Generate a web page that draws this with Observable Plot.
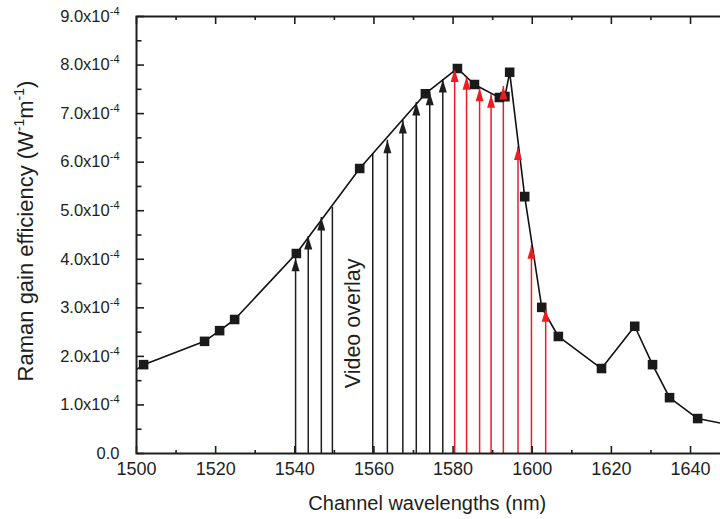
<!DOCTYPE html>
<html>
<head>
<meta charset="utf-8">
<script src="https://cdn.jsdelivr.net/npm/d3@7"></script>
<script src="https://cdn.jsdelivr.net/npm/@observablehq/plot@0.6"></script>
<style>
  html, body { margin: 0; padding: 0; background: #fff; }
  #chart svg { display: block; }
</style>
</head>
<body>
<div id="chart"></div>
<script>
// ---- data ----
// Raman gain efficiency curve (W^-1 m^-1) vs wavelength (nm)
const wavelength = [1497.5, 1501.8, 1517.2, 1521.0, 1524.8, 1540.4, 1556.4, 1573.0, 1581.1, 1585.4,
                    1591.7, 1593.1, 1594.3, 1598.1, 1602.4, 1606.6, 1617.5, 1625.9, 1630.4, 1634.7,
                    1641.8, 1653.0];
const gain = [1.59e-4, 1.83e-4, 2.31e-4, 2.53e-4, 2.76e-4, 4.12e-4, 5.87e-4, 7.41e-4, 7.93e-4, 7.60e-4,
              7.33e-4, 7.35e-4, 7.85e-4, 5.29e-4, 3.01e-4, 2.41e-4, 1.75e-4, 2.62e-4, 1.83e-4, 1.15e-4,
              0.72e-4, 0.54e-4];

// channel arrows (black) with heads
const blackArrowX   = [1540.2, 1543.4, 1546.7, 1563.4, 1567.3, 1570.7, 1574.1, 1577.4];
const blackArrowTop = [4.02e-4, 4.47e-4, 4.86e-4, 6.45e-4, 6.86e-4, 7.23e-4, 7.44e-4, 7.70e-4];
// channel lines (black) without heads
const plainLineX   = [1549.5, 1559.7];
const plainLineTop = [5.07e-4, 6.18e-4];
// channel arrows (red)
const redArrowX   = [1580.4, 1583.4, 1586.7, 1589.6, 1592.7, 1596.4, 1599.8, 1603.4];
const redArrowTop = [7.92e-4, 7.76e-4, 7.52e-4, 7.39e-4, 7.56e-4, 6.31e-4, 4.28e-4, 2.98e-4];

// annotation
const noteText = "Video overlay";
const noteX = 1554.7;
const noteY = 2.68e-4;

// axes
const xDomain = [1500, 1650];
const yDomain = [0, 9e-4];
const xTicks = [1500, 1520, 1540, 1560, 1580, 1600, 1620, 1640];
const xMinorTicks = [1510, 1530, 1550, 1570, 1590, 1610, 1630, 1650];
const yTicks = [0, 1e-4, 2e-4, 3e-4, 4e-4, 5e-4, 6e-4, 7e-4, 8e-4, 9e-4];
const yMinorTicks = [0.5e-4, 1.5e-4, 2.5e-4, 3.5e-4, 4.5e-4, 5.5e-4, 6.5e-4, 7.5e-4, 8.5e-4];
const yTickLabels = ["0.0", "1.0x10", "2.0x10", "3.0x10", "4.0x10", "5.0x10", "6.0x10", "7.0x10", "8.0x10", "9.0x10"];
const yTickExponent = "-4";
const xTitle = "Channel wavelengths (nm)";
const yTitleParts = ["Raman gain efficiency (W", "-1", "m", "-1", ")"];

// ---- build ----
const curve = wavelength.map((x, i) => ({x, y: gain[i]}));
const blackArrows = blackArrowX.map((x, i) => ({x, top: blackArrowTop[i]}));
const plainLines = plainLineX.map((x, i) => ({x, top: plainLineTop[i]}));
const redArrows = redArrowX.map((x, i) => ({x, top: redArrowTop[i]}));

const BLACK = "#1e1e1e";
const RED = "#ec1c24";

// arrowhead symbol: tip at the anchor point, body below it
const arrowHead = {
  draw(context) {
    const w = 8, h = 13;
    context.moveTo(0, 0);
    context.lineTo(-w / 2, h);
    context.lineTo(w / 2, h);
    context.closePath();
  }
};

const tickFmt = d => {
  const i = Math.round(d * 1e4);
  return i === 0 ? yTickLabels[0] : yTickLabels[i] + "⁻⁴";
};

const tickStyle = {text: null, label: null, strokeWidth: 1.6, stroke: BLACK};

const chart = Plot.plot({
  width: 720,
  height: 519,
  marginLeft: 136,
  marginTop: 16,
  marginBottom: 66,
  marginRight: -9.6,
  style: {fontFamily: "'Liberation Sans', Arial, sans-serif", background: "#fff", color: BLACK},
  x: {domain: xDomain},
  y: {domain: yDomain},
  marks: [
    // channel lines
    Plot.ruleX(blackArrows, {x: "x", y1: 0, y2: "top", stroke: BLACK, strokeWidth: 1.5}),
    Plot.ruleX(plainLines, {x: "x", y1: 0, y2: "top", stroke: BLACK, strokeWidth: 1.5}),
    Plot.ruleX(redArrows, {x: "x", y1: 0, y2: "top", stroke: RED, strokeWidth: 1.5}),
    // curve
    Plot.line(curve, {x: "x", y: "y", stroke: "#111", strokeWidth: 1.6, clip: true}),
    Plot.dot(curve, {x: "x", y: "y", symbol: "square", r: 5.4, fill: "#1a1a1a", stroke: "none", clip: true}),
    // arrowheads
    Plot.dot(blackArrows, {x: "x", y: "top", symbol: arrowHead, fill: BLACK, stroke: "none"}),
    Plot.dot(redArrows, {x: "x", y: "top", symbol: arrowHead, fill: RED, stroke: "none"}),
    // annotation
    Plot.text([noteText], {x: noteX, y: noteY, text: d => d, rotate: -90, fontSize: 21.5, fill: BLACK}),
    // frame
    Plot.frame({stroke: BLACK, strokeWidth: 2}),
    // inward ticks: left edge pointing right, bottom edge pointing up, top edge pointing down
    Plot.axisY({anchor: "right", frameAnchor: "left", ticks: yTicks, tickSize: 7, ...tickStyle}),
    Plot.axisY({anchor: "right", frameAnchor: "left", ticks: yMinorTicks, tickSize: 4.5, ...tickStyle}),
    Plot.axisX({anchor: "top", frameAnchor: "bottom", ticks: xTicks, tickSize: 8, ...tickStyle}),
    Plot.axisX({anchor: "top", frameAnchor: "bottom", ticks: xMinorTicks, tickSize: 4, ...tickStyle}),
    Plot.axisX({anchor: "bottom", frameAnchor: "top", ticks: xTicks, tickSize: 8, ...tickStyle}),
    Plot.axisX({anchor: "bottom", frameAnchor: "top", ticks: xMinorTicks, tickSize: 4, ...tickStyle}),
    // tick labels
    Plot.axisY({anchor: "left", ticks: yTicks, tickSize: 0, tickPadding: 17, tickFormat: tickFmt, fontSize: 16.5, label: null}),
    Plot.axisX({anchor: "bottom", ticks: xTicks, tickSize: 0, tickPadding: 9, tickFormat: d => String(d), fontSize: 18, label: null}),
    // titles
    Plot.text([xTitle], {frameAnchor: "bottom", dy: 50, dx: -6, text: d => d, textAnchor: "middle", lineAnchor: "middle", fontSize: 20, fill: BLACK, ariaDescription: "x-title"}),
    Plot.text([yTitleParts.join("")], {frameAnchor: "left", dx: -111, dy: -4, text: d => d, textAnchor: "middle", lineAnchor: "middle", rotate: -90, fontSize: 22, fill: BLACK, ariaDescription: "y-title"})
  ]
});

// superscripts on tick labels
const NS = "http://www.w3.org/2000/svg";
chart.querySelectorAll('g[aria-label="y-axis tick label"] text').forEach(t => {
  const s = t.textContent;
  const k = s.indexOf("x10");
  if (k >= 0) {
    t.textContent = s.slice(0, k + 3);
    const ts = document.createElementNS(NS, "tspan");
    ts.setAttribute("dy", "-7");
    ts.setAttribute("font-size", "11");
    ts.textContent = yTickExponent;
    t.appendChild(ts);
  }
});
// superscripts on y title
chart.querySelectorAll('g[aria-description="y-title"] text').forEach(t => {
  t.textContent = "";
  yTitleParts.forEach((p, i) => {
    const ts = document.createElementNS(NS, "tspan");
    const sup = i % 2 === 1;
    if (sup) { ts.setAttribute("font-size", "14"); ts.setAttribute("dy", "-9"); }
    else if (i > 0) { ts.setAttribute("dy", "9"); }
    ts.textContent = p;
    t.appendChild(ts);
  });
});

document.getElementById("chart").appendChild(chart);
</script>
</body>
</html>
